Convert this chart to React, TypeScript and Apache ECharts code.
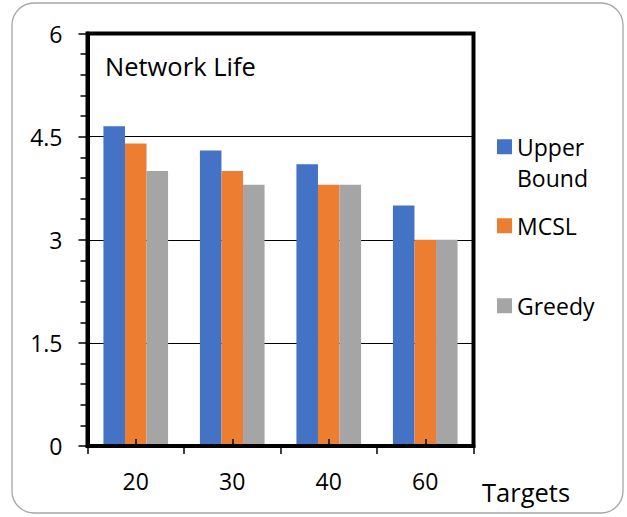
import React, { useEffect, useRef } from "react";
import * as echarts from "echarts";

// Number of targets in the field
const targets = ["20", "30", "40", "60"];

// Network lifetime per scheme
const upperBound = [4.65, 4.3, 4.1, 3.5];
const mcsl = [4.4, 4.0, 3.8, 3.0];
const greedy = [4.0, 3.8, 3.8, 3.0];

const seriesNames = ["Upper Bound", "MCSL", "Greedy"];
const colors = ["#4472C4", "#ED7D31", "#A5A5A5"];

const FONT = "'Open Sans', sans-serif";

export default function App() {
  const ref = useRef<HTMLDivElement>(null);

  useEffect(() => {
    if (!ref.current) return;
    const chart = echarts.init(ref.current, undefined, { renderer: "svg" });

    const legendText = {
      fontSize: 23,
      fontFamily: FONT,
      color: "#000",
      lineHeight: 31.5,
    };

    const option: any = {
      animation: false,
      backgroundColor: "#fff",
      color: colors,
      title: {
        text: "Network Life",
        left: 105,
        top: 53,
        padding: 0,
        textStyle: {
          fontSize: 25.5,
          fontWeight: "normal",
          fontFamily: FONT,
          color: "#000",
        },
      },
      legend: [
        {
          data: [seriesNames[0]],
          left: 497,
          top: 99.5,
          padding: 0,
          icon: "rect",
          itemWidth: 15,
          itemHeight: 15,
          // the label is centred on the swatch; an empty first line keeps
          // "Upper" level with the swatch and lets "Bound" wrap below it
          formatter: () => "\nUpper\nBound",
          textStyle: legendText,
        },
        {
          data: [seriesNames[1]],
          left: 497,
          top: 210,
          padding: 0,
          icon: "rect",
          itemWidth: 15,
          itemHeight: 15,
          textStyle: legendText,
        },
        {
          data: [seriesNames[2]],
          left: 497,
          top: 290,
          padding: 0,
          icon: "rect",
          itemWidth: 15,
          itemHeight: 15,
          textStyle: legendText,
        },
      ],
      grid: {
        left: 87.5,
        right: 153.5,
        top: 33.5,
        bottom: 71,
        show: true,
        borderColor: "#000",
        borderWidth: 4,
        containLabel: false,
        outerBoundsMode: "none",
      },
      xAxis: [
        {
          type: "category",
          data: targets,
          position: "bottom",
          z: 3,
          axisLine: { show: true, lineStyle: { color: "#000", width: 4 } },
          axisTick: {
            show: true,
            alignWithLabel: false,
            length: 8,
            lineStyle: { color: "#000", width: 1.5 },
          },
          axisLabel: {
            fontSize: 23,
            fontFamily: FONT,
            color: "#000",
            margin: 23,
          },
          splitLine: { show: false },
        },
        {
          type: "category",
          data: targets,
          position: "bottom",
          z: 3,
          axisLine: { show: false },
          axisTick: {
            show: true,
            inside: true,
            alignWithLabel: true,
            length: 7,
            lineStyle: { color: "#000", width: 1.5 },
          },
          axisLabel: { show: false },
          splitLine: { show: false },
        },
      ],
      yAxis: {
        type: "value",
        min: 0,
        max: 6,
        interval: 1.5,
        axisLine: { show: true, lineStyle: { color: "#000", width: 4 } },
        axisTick: {
          show: true,
          length: 9,
          lineStyle: { color: "#000", width: 1.5 },
        },
        minorTick: {
          show: true,
          splitNumber: 5,
          length: 7,
          lineStyle: { color: "#000", width: 1.5 },
        },
        splitLine: { show: true, lineStyle: { color: "#000", width: 1 } },
        axisLabel: {
          fontSize: 23,
          fontFamily: FONT,
          color: "#000",
          margin: 25,
        },
      },
      graphic: [
        {
          type: "rect",
          shape: { x: 12, y: 3, width: 611, height: 510, r: 22 },
          style: { fill: "none", stroke: "#a6a6a6", lineWidth: 1.3 },
          silent: true,
          z: -1,
        },
        {
          type: "text",
          left: 482,
          top: 479,
          style: {
            text: "Targets",
            fontSize: 25.5,
            fontFamily: FONT,
            fill: "#000",
          },
        },
      ],
      series: [
        { name: seriesNames[0], data: upperBound },
        { name: seriesNames[1], data: mcsl },
        { name: seriesNames[2], data: greedy },
      ].map((s) => ({
        ...s,
        type: "bar",
        xAxisIndex: 0,
        barGap: "0%",
        barCategoryGap: "33%",
      })),
    };

    chart.setOption(option);
    return () => chart.dispose();
  }, []);

  return (
    <div
      ref={ref}
      style={{ position: "fixed", left: 0, top: 0, width: 627, height: 517 }}
    />
  );
}
